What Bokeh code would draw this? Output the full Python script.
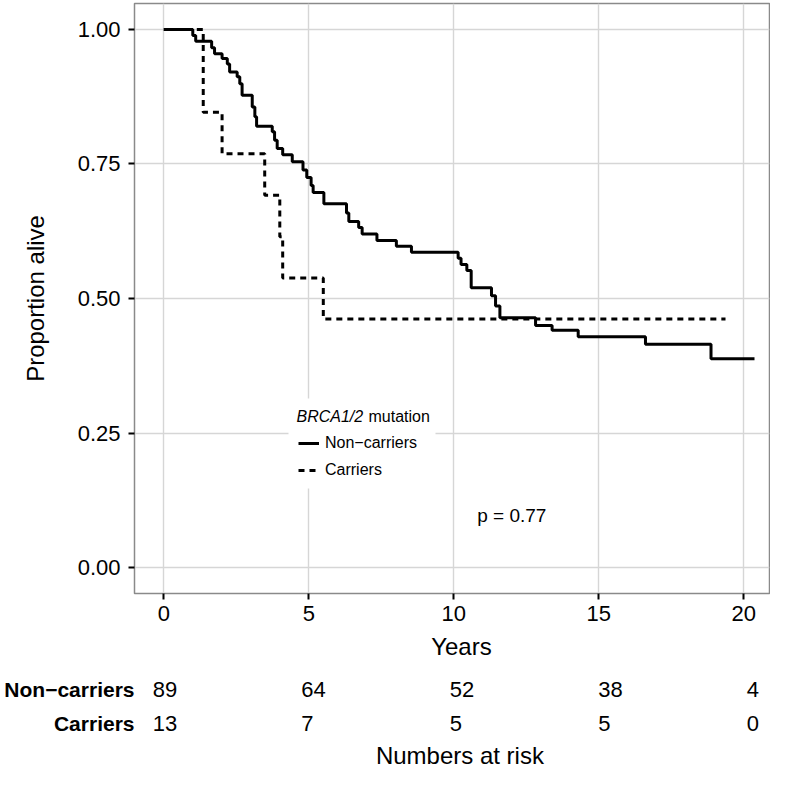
from bokeh.plotting import figure
from bokeh.models import (Range1d, FixedTicker, BoxAnnotation, Legend, LegendItem,
                          PrintfTickFormatter, LinearAxis)
from bokeh.layouts import column
from bokeh.core.properties import value
from bokeh.embed import file_html
from bokeh.resources import INLINE

FONT = "Liberation Sans"

# ---- data ----
noncarrier_time = [0, 1.00, 1.10, 1.65, 1.75, 2.01, 2.19, 2.27, 2.53, 2.62, 2.70, 3.05, 3.14, 3.20,
                   3.74, 3.82, 3.91, 4.10, 4.43, 4.80, 4.93, 5.08, 5.15, 5.52, 6.30, 6.38, 6.72,
                   6.84, 7.35, 8.02, 8.54, 10.15, 10.25, 10.45, 10.60, 11.30, 11.44, 11.59, 12.82,
                   13.39, 14.29, 16.61, 18.87, 20.37]
noncarrier_surv = [1.000, 0.989, 0.978, 0.966, 0.955, 0.946, 0.936, 0.921, 0.912, 0.899, 0.878, 0.856,
                   0.838, 0.820, 0.810, 0.794, 0.779, 0.767, 0.754, 0.739, 0.725, 0.710, 0.697, 0.676,
                   0.659, 0.643, 0.632, 0.620, 0.608, 0.597, 0.586, 0.575, 0.563, 0.552, 0.520, 0.505,
                   0.486, 0.464, 0.450, 0.441, 0.429, 0.415, 0.388, 0.388]
carrier_time = [0, 1.36, 2.01, 3.48, 4.00, 4.10, 5.50, 19.37]
carrier_surv = [1.000, 0.846, 0.769, 0.692, 0.615, 0.538, 0.462, 0.462]

x_ticks = [0, 5, 10, 15, 20]
y_ticks = [0, 0.25, 0.5, 0.75, 1.0]
risk_times = [0, 5, 10, 15, 20]
risk_noncarriers = [89, 64, 52, 38, 4]
risk_carriers = [13, 7, 5, 5, 0]
group_labels = ["Non\u2212carriers", "Carriers"]
p_label = "p = 0.77"

# ---- main survival panel ----
p = figure(width=770, height=631,
           x_range=Range1d(-1.0103, 20.887), y_range=Range1d(-0.0483, 1.0483),
           output_backend="svg", toolbar_location=None,
           min_border_left=134, min_border_right=1, min_border_top=3, min_border_bottom=38)
p.background_fill_color = "white"
p.border_fill_color = "white"
p.outline_line_color = "#8a8a8a"
p.outline_line_width = 1.5

for ax in (p.xaxis[0], p.yaxis[0]):
    ax.axis_line_color = None
    ax.major_tick_line_color = "black"
    ax.major_tick_line_width = 2
    ax.major_tick_out = 6
    ax.major_tick_in = 0
    ax.minor_tick_line_color = None
    ax.major_label_text_font = FONT
    ax.major_label_text_font_size = "22px"
    ax.major_label_text_color = "black"
    ax.axis_label_text_font = FONT
    ax.axis_label_text_font_size = "24px"
    ax.axis_label_text_font_style = "normal"
    ax.axis_label_text_color = "black"

p.xaxis.ticker = FixedTicker(ticks=x_ticks)
p.xaxis.major_label_standoff = 6
p.yaxis.ticker = FixedTicker(ticks=y_ticks)
p.yaxis.formatter = PrintfTickFormatter(format="%.2f")
p.yaxis.major_label_standoff = 8
p.yaxis.axis_label = "Proportion alive"
p.yaxis.axis_label_standoff = 26

p.grid.grid_line_color = "#d6d6d6"
p.grid.grid_line_width = 1.4
p.xgrid.ticker = FixedTicker(ticks=x_ticks)
p.ygrid.ticker = FixedTicker(ticks=y_ticks)

r_non = p.step(x=noncarrier_time, y=noncarrier_surv, mode="after", line_width=3, line_color="black")
r_car = p.step(x=carrier_time, y=carrier_surv, mode="after", line_width=3, line_color="black",
               line_dash="6 5")

# pixel helpers for placing legend pieces (layout only)
def tx(px):
    return (px - 163.3) / 29.0
def sy(py):
    return 1 - (py - 29.0) / 538.0

box = BoxAnnotation(left=tx(288), right=tx(435), top=sy(398), bottom=sy(488),
                    fill_color="white", fill_alpha=1.0, line_alpha=0.0, level="underlay")
p.add_layout(box)

p.text(x=[tx(296)], y=[sy(416)], text=["BRCA1/2"], text_font=value(FONT),
       text_font_size=value("16px"), text_font_style="italic", text_align="left",
       text_baseline="middle", text_color="black")
p.text(x=[tx(296 + 72)], y=[sy(416)], text=["mutation"], text_font=value(FONT),
       text_font_size=value("16px"), text_align="left",
       text_baseline="middle", text_color="black")

legend = Legend(items=[LegendItem(label=group_labels[0], renderers=[r_non]),
                       LegendItem(label=group_labels[1], renderers=[r_car])],
                location=(164, 113), padding=0, margin=0, spacing=7,
                glyph_width=21, glyph_height=20, label_height=20, label_standoff=6,
                label_text_font=FONT, label_text_font_size="16px", label_text_color="black",
                background_fill_alpha=0, border_line_alpha=0)
p.add_layout(legend)

p.text(x=[12.0], y=[0.097], text=[p_label], text_font=value(FONT), text_font_size=value("19px"),
       text_align="center", text_baseline="middle", text_color="black")

# ---- x title and numbers-at-risk table ----
t2 = figure(width=770, height=139, x_range=Range1d(-0.616, 20.764), y_range=Range1d(-1.382, 2.706),
            output_backend="svg", toolbar_location=None, x_axis_type=None, y_axis_type=None,
            min_border_left=134, min_border_right=1, min_border_top=0, min_border_bottom=0)
t2.outline_line_color = None
t2.background_fill_color = "white"
t2.border_fill_color = "white"

row_axis = LinearAxis(ticker=FixedTicker(ticks=[1, 0]),
                      major_label_overrides={1: group_labels[0], 0: group_labels[1]})
row_axis.axis_line_color = None
row_axis.major_tick_line_color = None
row_axis.minor_tick_line_color = None
row_axis.major_tick_out = 0
row_axis.major_tick_in = 0
row_axis.major_label_standoff = 0
row_axis.major_label_text_font = FONT
row_axis.major_label_text_font_size = "21px"
row_axis.major_label_text_font_style = "bold"
row_axis.major_label_text_color = "black"
t2.add_layout(row_axis, "left")

t2.text(x=[10.39], y=[2.265], text=["Years"], text_font=value(FONT), text_font_size=value("24px"),
        text_align="center", text_baseline="middle", text_color="black")
t2.text(x=risk_times, y=[1] * len(risk_times), text=[str(v) for v in risk_noncarriers],
        text_font=value(FONT), text_font_size=value("22px"), text_align="left",
        text_baseline="middle", text_color="black")
t2.text(x=risk_times, y=[0] * len(risk_times), text=[str(v) for v in risk_carriers],
        text_font=value(FONT), text_font_size=value("22px"), text_align="left",
        text_baseline="middle", text_color="black")
t2.text(x=[10.34], y=[-0.941], text=["Numbers at risk"], text_font=value(FONT),
        text_font_size=value("24px"), text_align="center", text_baseline="middle", text_color="black")

layout = column(p, t2, spacing=0)
open("out.html", "w").write(file_html(layout, INLINE))
